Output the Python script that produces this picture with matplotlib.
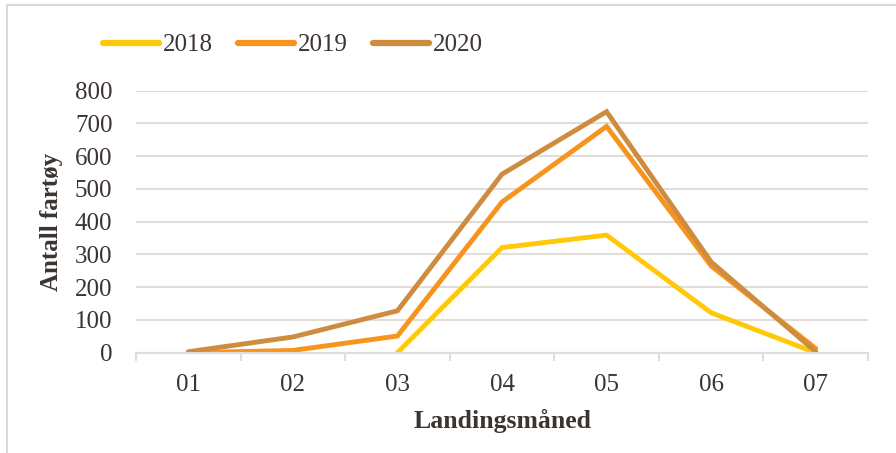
import matplotlib.pyplot as plt
import numpy as np

# data
months = ['01', '02', '03', '04', '05', '06', '07']
v2018 = [np.nan, np.nan, 0, 321, 359, 122, 0]
v2019 = [0, 7, 51, 460, 691, 265, 13]
v2020 = [3, 48, 128, 545, 736, 277, 3]

colors = {'2018': '#FFC90A', '2019': '#F7941E', '2020': '#CD8C3E'}
txt = '#3B3431'
grid = '#E2DDD9'

plt.rcParams['font.family'] = ['Liberation Serif', 'DejaVu Serif']

fig = plt.figure(figsize=(8.96, 4.53), dpi=100)
ax = fig.add_axes([136 / 896, 1 - 352.7 / 453, (868 - 136) / 896, (352.7 - 90.7) / 453])

x = np.arange(len(months))
ax.plot(x, v2018, color=colors['2018'], lw=3.5, label='2018', solid_capstyle='round', solid_joinstyle='miter')
ax.plot(x, v2019, color=colors['2019'], lw=3.5, label='2019', solid_capstyle='round', solid_joinstyle='miter')
ax.plot(x, v2020, color=colors['2020'], lw=3.5, label='2020', solid_capstyle='round', solid_joinstyle='miter')

ax.set_xlim(-0.5, 6.5)
ax.set_ylim(0, 800)
ax.set_yticks(range(0, 801, 100))
ax.set_xticks(x)
ax.set_xticklabels(months)
ax.set_xticks(np.arange(-0.5, 7, 1), minor=True)
ax.yaxis.grid(True, color=grid, lw=1.5)
ax.set_axisbelow(True)
for s in ['top', 'right', 'left']:
    ax.spines[s].set_visible(False)
ax.spines['bottom'].set_color(grid)
ax.spines['bottom'].set_linewidth(1.5)
ax.tick_params(axis='y', length=0, pad=17, labelsize=18, labelcolor=txt)
ax.tick_params(axis='x', which='major', length=0, pad=15, labelsize=18, labelcolor=txt)
ax.tick_params(axis='x', which='minor', length=6, width=1.5, color=grid)

ax.set_xlabel('Landingsmåned', fontsize=18.5, fontweight='bold', color=txt, va='top')
ax.set_ylabel('Antall fartøy', fontsize=18, fontweight='bold', color=txt)
ax.xaxis.set_label_coords(0.5, -0.215)
ax.yaxis.set_label_coords(-0.1, 0.5)

leg = fig.legend(loc='center left', bbox_to_anchor=(103 / 896, 1 - 45 / 453), ncol=3, frameon=False,
                 fontsize=18, handlelength=2.25, handletextpad=0.15, columnspacing=1.0,
                 borderpad=0, borderaxespad=0)
for t in leg.get_texts():
    t.set_color(txt)
for l in leg.get_lines():
    l.set_linewidth(4.5)

# chart frame
fig.add_artist(plt.Line2D([7 / 896, 7 / 896], [0, 1 - 5 / 453], transform=fig.transFigure, color='#DCD8D4', lw=1.5))
fig.add_artist(plt.Line2D([7 / 896, 1], [1 - 5 / 453, 1 - 5 / 453], transform=fig.transFigure, color='#DCD8D4', lw=1.5))

fig.savefig('out.png', dpi=100)
